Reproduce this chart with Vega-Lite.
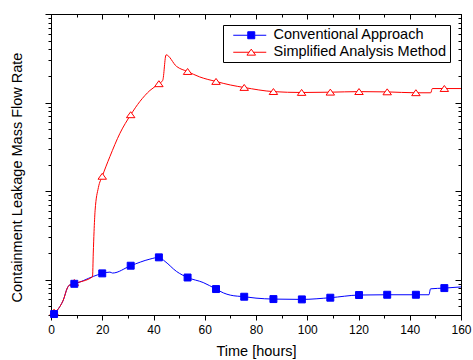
{
  "$schema": "https://vega.github.io/schema/vega-lite/v6.json",
  "width": 410,
  "height": 301,
  "autosize": "none",
  "padding": {"left": 51, "top": 14, "right": 12, "bottom": 45},
  "background": "white",
  "config": {
    "view": {"stroke": "black", "strokeWidth": 1},
    "font": "Liberation Sans",
    "axis": {
      "grid": false,
      "domainColor": "black",
      "tickColor": "black",
      "labelColor": "black",
      "titleColor": "black",
      "labelFont": "Liberation Sans",
      "titleFont": "Liberation Sans",
      "labelFontSize": 12,
      "titleFontSize": 14.5,
      "titleFontWeight": "normal"
    }
  },
  "datasets": {
    "lines": [
      {"series": "Conventional Approach", "t": 1.2, "v": 0.41},
      {"series": "Conventional Approach", "t": 3.5, "v": 0.5},
      {"series": "Conventional Approach", "t": 4.8, "v": 0.59},
      {"series": "Conventional Approach", "t": 6.4, "v": 0.81},
      {"series": "Conventional Approach", "t": 7.4, "v": 0.88},
      {"series": "Conventional Approach", "t": 9.1, "v": 0.9},
      {"series": "Conventional Approach", "t": 16.5, "v": 1.09},
      {"series": "Conventional Approach", "t": 20.0, "v": 1.18},
      {"series": "Conventional Approach", "t": 23.0, "v": 1.22},
      {"series": "Conventional Approach", "t": 24.0, "v": 1.19},
      {"series": "Conventional Approach", "t": 31.1, "v": 1.44},
      {"series": "Conventional Approach", "t": 38.6, "v": 1.71},
      {"series": "Conventional Approach", "t": 42.1, "v": 1.79},
      {"series": "Conventional Approach", "t": 44.5, "v": 1.61},
      {"series": "Conventional Approach", "t": 49.0, "v": 1.24},
      {"series": "Conventional Approach", "t": 53.3, "v": 1.06},
      {"series": "Conventional Approach", "t": 59.4, "v": 0.93},
      {"series": "Conventional Approach", "t": 64.4, "v": 0.785},
      {"series": "Conventional Approach", "t": 67.3, "v": 0.71},
      {"series": "Conventional Approach", "t": 70.0, "v": 0.67},
      {"series": "Conventional Approach", "t": 75.4, "v": 0.643},
      {"series": "Conventional Approach", "t": 80.0, "v": 0.62},
      {"series": "Conventional Approach", "t": 86.8, "v": 0.605},
      {"series": "Conventional Approach", "t": 97.9, "v": 0.6},
      {"series": "Conventional Approach", "t": 109.0, "v": 0.627},
      {"series": "Conventional Approach", "t": 120.2, "v": 0.672},
      {"series": "Conventional Approach", "t": 131.2, "v": 0.677},
      {"series": "Conventional Approach", "t": 142.4, "v": 0.677},
      {"series": "Conventional Approach", "t": 147.5, "v": 0.677},
      {"series": "Conventional Approach", "t": 148.1, "v": 0.79},
      {"series": "Conventional Approach", "t": 153.5, "v": 0.805},
      {"series": "Conventional Approach", "t": 160.0, "v": 0.83},
      {"series": "Simplified Analysis Method", "t": 1.2, "v": 0.42},
      {"series": "Simplified Analysis Method", "t": 3.5, "v": 0.5},
      {"series": "Simplified Analysis Method", "t": 4.8, "v": 0.59},
      {"series": "Simplified Analysis Method", "t": 6.4, "v": 0.81},
      {"series": "Simplified Analysis Method", "t": 7.4, "v": 0.88},
      {"series": "Simplified Analysis Method", "t": 9.1, "v": 0.91},
      {"series": "Simplified Analysis Method", "t": 16.2, "v": 1.08},
      {"series": "Simplified Analysis Method", "t": 16.5, "v": 2.0},
      {"series": "Simplified Analysis Method", "t": 16.8, "v": 3.5},
      {"series": "Simplified Analysis Method", "t": 17.2, "v": 6.0},
      {"series": "Simplified Analysis Method", "t": 18.5, "v": 11.0},
      {"series": "Simplified Analysis Method", "t": 20.0, "v": 14.7},
      {"series": "Simplified Analysis Method", "t": 23.0, "v": 24.6},
      {"series": "Simplified Analysis Method", "t": 26.9, "v": 45},
      {"series": "Simplified Analysis Method", "t": 31.1, "v": 72.8},
      {"series": "Simplified Analysis Method", "t": 34.7, "v": 103},
      {"series": "Simplified Analysis Method", "t": 38.6, "v": 137},
      {"series": "Simplified Analysis Method", "t": 42.1, "v": 163},
      {"series": "Simplified Analysis Method", "t": 43.6, "v": 178},
      {"series": "Simplified Analysis Method", "t": 44.9, "v": 346},
      {"series": "Simplified Analysis Method", "t": 49.0, "v": 256},
      {"series": "Simplified Analysis Method", "t": 53.3, "v": 224},
      {"series": "Simplified Analysis Method", "t": 58.0, "v": 195},
      {"series": "Simplified Analysis Method", "t": 64.4, "v": 173},
      {"series": "Simplified Analysis Method", "t": 70.0, "v": 158},
      {"series": "Simplified Analysis Method", "t": 75.4, "v": 148},
      {"series": "Simplified Analysis Method", "t": 86.8, "v": 133},
      {"series": "Simplified Analysis Method", "t": 97.8, "v": 130},
      {"series": "Simplified Analysis Method", "t": 109.0, "v": 131},
      {"series": "Simplified Analysis Method", "t": 120.2, "v": 133},
      {"series": "Simplified Analysis Method", "t": 131.2, "v": 132},
      {"series": "Simplified Analysis Method", "t": 142.4, "v": 129},
      {"series": "Simplified Analysis Method", "t": 148.2, "v": 129},
      {"series": "Simplified Analysis Method", "t": 148.8, "v": 144},
      {"series": "Simplified Analysis Method", "t": 153.5, "v": 144},
      {"series": "Simplified Analysis Method", "t": 160.0, "v": 144}
    ],
    "markers": [
      {"s": "simplified", "t": 1.2, "v": 0.43},
      {"s": "simplified", "t": 9.1, "v": 0.93},
      {"s": "simplified", "t": 20.0, "v": 14.7},
      {"s": "simplified", "t": 31.1, "v": 72.8},
      {"s": "simplified", "t": 42.1, "v": 163},
      {"s": "simplified", "t": 53.3, "v": 224},
      {"s": "simplified", "t": 64.4, "v": 173},
      {"s": "simplified", "t": 75.4, "v": 148},
      {"s": "simplified", "t": 86.8, "v": 133},
      {"s": "simplified", "t": 97.8, "v": 130},
      {"s": "simplified", "t": 109.0, "v": 131},
      {"s": "simplified", "t": 120.2, "v": 133},
      {"s": "simplified", "t": 131.2, "v": 132},
      {"s": "simplified", "t": 142.4, "v": 129},
      {"s": "simplified", "t": 153.5, "v": 144},
      {"s": "conventional", "t": 1.2, "v": 0.41},
      {"s": "conventional", "t": 9.1, "v": 0.9},
      {"s": "conventional", "t": 20.0, "v": 1.18},
      {"s": "conventional", "t": 31.1, "v": 1.44},
      {"s": "conventional", "t": 42.1, "v": 1.79},
      {"s": "conventional", "t": 53.3, "v": 1.06},
      {"s": "conventional", "t": 64.4, "v": 0.785},
      {"s": "conventional", "t": 75.4, "v": 0.643},
      {"s": "conventional", "t": 86.8, "v": 0.605},
      {"s": "conventional", "t": 97.9, "v": 0.6},
      {"s": "conventional", "t": 109.0, "v": 0.627},
      {"s": "conventional", "t": 120.2, "v": 0.672},
      {"s": "conventional", "t": 131.2, "v": 0.677},
      {"s": "conventional", "t": 142.4, "v": 0.677},
      {"s": "conventional", "t": 153.5, "v": 0.805}
    ]
  },
  "layer": [
    {
      "data": {"name": "lines"},
      "mark": {"type": "line", "strokeWidth": 1, "interpolate": "monotone"},
      "encoding": {
        "x": {
          "field": "t", "type": "quantitative",
          "scale": {"domain": [0, 160], "nice": false},
          "axis": {
            "orient": "bottom",
            "title": "Time [hours]",
            "values": [0, 10, 20, 30, 40, 50, 60, 70, 80, 90, 100, 110, 120, 130, 140, 150, 160],
            "labelExpr": "datum.value % 20 === 0 ? datum.label : ''",
            "tickSize": {"condition": {"test": "datum.value % 20 === 0", "value": 5}, "value": 3},
            "labelPadding": 4,
            "titlePadding": 9,
            "labelFlush": false,
            "labelOverlap": false
          }
        },
        "y": {
          "field": "v", "type": "quantitative",
          "scale": {"type": "log", "domain": [0.4, 1000], "nice": false},
          "axis": {
            "orient": "left",
            "title": "Containment Leakage Mass Flow Rate",
            "labels": false,
            "values": [0.4, 0.5, 0.6, 0.7, 0.8, 0.9, 1, 2, 3, 4, 5, 6, 7, 8, 9, 10, 20, 30, 40, 50, 60, 70, 80, 90, 100, 200, 300, 400, 500, 600, 700, 800, 900, 1000],
            "tickSize": {"condition": {"test": "abs(log(datum.value)/LN10 - round(log(datum.value)/LN10)) < 0.000001", "value": 6}, "value": 3},
            "titlePadding": 20,
            "titleY": 163
          }
        },
        "color": {
          "field": "series", "type": "nominal",
          "scale": {"domain": ["Conventional Approach", "Simplified Analysis Method"], "range": ["#0000ff", "#ff0000"]},
          "legend": {
            "title": null,
            "orient": "top-right",
            "offset": 11,
            "strokeColor": "black",
            "fillColor": "white",
            "padding": 3,
            "rowPadding": 2,
            "labelFont": "Liberation Sans",
            "labelFontSize": 14.5,
            "labelColor": "black",
            "labelLimit": 0,
            "labelOffset": 33,
            "symbolSize": 100,
            "symbolStrokeWidth": 1,
            "symbolType": "M0,0H6.6",
            "encode": {
              "symbols": {
                "update": {
                  "shape": {"signal": "datum.value === 'Conventional Approach' ? 'M0,0H2.9M4.3,0H6.6M2.9,-0.7H4.3V0.7H2.9Z' : 'M0,0H3.16M4.04,0H6.6M3.6,-0.62L4.46,0.58L2.74,0.58Z'"},
                  "fill": {"signal": "datum.value === 'Conventional Approach' ? '#0000ff' : '#ffffff'"},
                  "stroke": {"signal": "datum.value === 'Conventional Approach' ? '#0000ff' : '#ff0000'"},
                  "opacity": {"value": 1}
                }
              }
            }
          }
        }
      }
    },
    {
      "data": {"name": "markers"},
      "mark": {"type": "point", "opacity": 1, "strokeWidth": 1, "size": 72},
      "encoding": {
        "x": {
          "field": "t", "type": "quantitative",
          "scale": {"domain": [0, 160], "nice": false},
          "axis": {
            "orient": "top",
            "title": null,
            "labels": false,
            "values": [0, 10, 20, 30, 40, 50, 60, 70, 80, 90, 100, 110, 120, 130, 140, 150, 160],
            "tickSize": {"condition": {"test": "datum.value % 20 === 0", "value": -5}, "value": -3}
          }
        },
        "y": {
          "field": "v", "type": "quantitative",
          "scale": {"type": "log", "domain": [0.4, 1000], "nice": false},
          "axis": {
            "orient": "right",
            "title": null,
            "labels": false,
            "values": [0.4, 0.5, 0.6, 0.7, 0.8, 0.9, 1, 2, 3, 4, 5, 6, 7, 8, 9, 10, 20, 30, 40, 50, 60, 70, 80, 90, 100, 200, 300, 400, 500, 600, 700, 800, 900, 1000],
            "tickSize": {"condition": {"test": "abs(log(datum.value)/LN10 - round(log(datum.value)/LN10)) < 0.000001", "value": -6}, "value": -3}
          }
        },
        "stroke": {
          "field": "s", "type": "nominal",
          "scale": {"domain": ["conventional", "simplified"], "range": ["#0000ff", "#ff0000"]},
          "legend": null
        },
        "fill": {
          "field": "s", "type": "nominal",
          "scale": {"domain": ["conventional", "simplified"], "range": ["#0000ff", "#ffffff"]},
          "legend": null
        },
        "shape": {
          "field": "s", "type": "nominal",
          "scale": {"domain": ["conventional", "simplified"], "range": ["M-0.82,-0.82H0.82V0.82H-0.82Z", "M0,-0.72L1,0.68L-1,0.68Z"]},
          "legend": null
        }
      }
    }
  ]
}
